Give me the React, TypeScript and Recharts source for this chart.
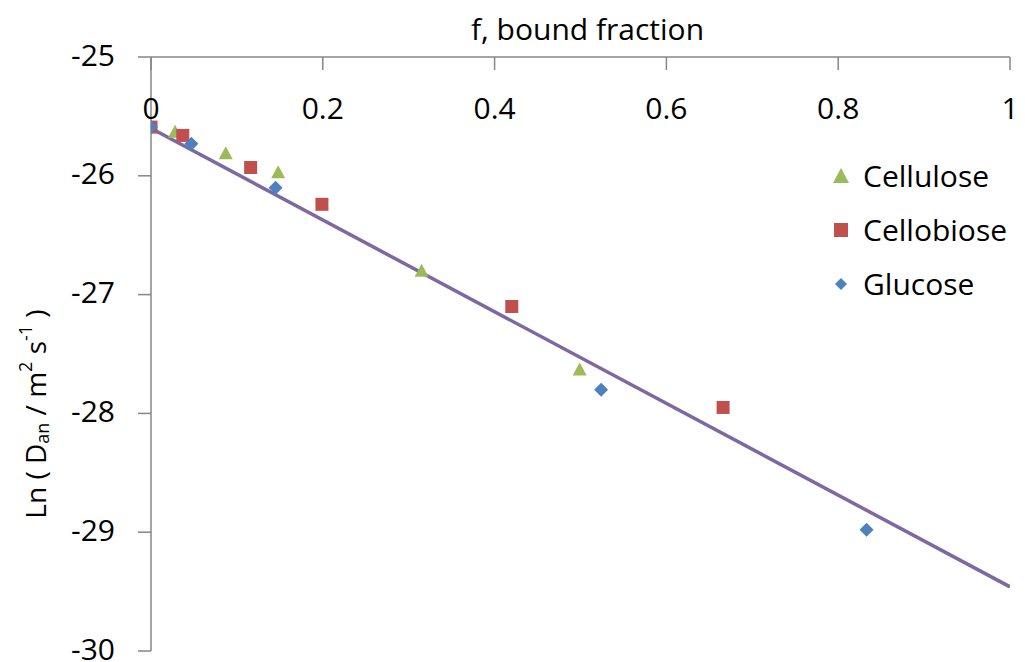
import React from 'react';
import { ScatterChart, Scatter, XAxis, YAxis } from 'recharts';

const xTicks = [0, 0.2, 0.4, 0.6, 0.8, 1];
const yTicks = [-30, -29, -28, -27, -26, -25];

const celluloseF = [0.028, 0.087, 0.148, 0.315, 0.499];
const celluloseLnD = [-25.63, -25.81, -25.97, -26.8, -27.63];

const cellobioseF = [0, 0.037, 0.116, 0.199, 0.42, 0.666];
const cellobioseLnD = [-25.59, -25.66, -25.93, -26.24, -27.1, -27.95];

const glucoseF = [0, 0.047, 0.145, 0.524, 0.833];
const glucoseLnD = [-25.59, -25.73, -26.1, -27.8, -28.98];

const fitF = [0, 1];
const fitLnD = [-25.6, -29.46];

const toPts = (xs: number[], ys: number[]) => xs.map((x, i) => ({ x, y: ys[i] }));

const GREEN = '#9BBB59';
const RED = '#C0504D';
const BLUE = '#4F81BD';
const PURPLE = '#7D68A2';
const AXIS = '#868686';
const FONT = '"Open Sans", Lato, sans-serif';
const FS = 30;
const TFS = 28;

const Triangle = (p: any) => (
  <polygon points={`${p.cx},${p.cy - 7} ${p.cx + 7},${p.cy + 6} ${p.cx - 7},${p.cy + 6}`} fill={GREEN} />
);
const Square = (p: any) => <rect x={p.cx - 6.5} y={p.cy - 6.5} width={13} height={13} fill={RED} />;
const Diamond = (p: any) => (
  <polygon points={`${p.cx},${p.cy - 7} ${p.cx + 7},${p.cy} ${p.cx},${p.cy + 7} ${p.cx - 7},${p.cy}`} fill={BLUE} />
);
const NoShape = () => <g />;

const legendItems = [
  { name: 'Cellulose', icon: 'tri', color: GREEN },
  { name: 'Cellobiose', icon: 'sq', color: RED },
  { name: 'Glucose', icon: 'dia', color: BLUE },
];

const XTick = (p: any) => (
  <g>
    <line x1={p.x} x2={p.x} y1={p.y} y2={p.y + 13} stroke={AXIS} strokeWidth={1.5} />
    <text x={p.x} y={p.y + 50} textAnchor="middle" dominantBaseline="central" fontFamily={FONT} fontSize={FS} fill="#000">
      {p.payload.value}
    </text>
  </g>
);

const YTick = (p: any) => (
  <text x={p.x} y={p.y - 3} textAnchor="end" dominantBaseline="central" fontFamily={FONT} fontSize={FS} fill="#000">
    {p.payload.value}
  </text>
);

const YTitle = (props: any) => {
  const vb = props.viewBox || {};
  const cx = vb.x + 27;
  const cy = vb.y + vb.height / 2 + 60;
  return (
    <text
      x={cx}
      y={cy}
      transform={`rotate(-90, ${cx}, ${cy})`}
      textAnchor="middle"
      dominantBaseline="central"
      fontFamily={FONT}
      fontSize={TFS}
      fill="#000"
    >
      Ln ( D
      <tspan dy={7} fontSize={18}>an</tspan>
      <tspan dy={-7}> / m</tspan>
      <tspan dy={-10} fontSize={18}>2</tspan>
      <tspan dy={10}> s</tspan>
      <tspan dy={-10} fontSize={18}>-1</tspan>
      <tspan dy={10}> )</tspan>
    </text>
  );
};

const XTitle = (props: any) => {
  const vb = props.viewBox || {};
  return (
    <text
      x={vb.x + vb.width / 2 + 7}
      y={vb.y + 20}
      textAnchor="middle"
      dominantBaseline="central"
      fontFamily={FONT}
      fontSize={FS}
      fill="#000"
    >
      f, bound fraction
    </text>
  );
};

export default function App() {
  return (
    <div style={{ position: 'relative', width: 1017, height: 654 }}>
      <ScatterChart width={1017} height={654} margin={{ top: 0, right: 15, bottom: 11, left: 0 }}>
        <XAxis
          type="number"
          dataKey="x"
          orientation="top"
          domain={[0, 1]}
          ticks={xTicks}
          interval={0}
          height={49}
          axisLine={{ stroke: AXIS, strokeWidth: 1.5 }}
          tickLine={false}
          tickSize={0}
          tickMargin={0}
          tick={<XTick />}
          allowDataOverflow
          label={<XTitle />}
        />
        <YAxis
          type="number"
          dataKey="y"
          domain={[-30, -25]}
          ticks={yTicks}
          interval={0}
          width={143}
          axisLine={{ stroke: AXIS, strokeWidth: 1.5 }}
          tickLine={{ stroke: AXIS, strokeWidth: 1.5 }}
          tickSize={13}
          tickMargin={23}
          tick={<YTick />}
          allowDataOverflow
          label={<YTitle />}
        />
        <Scatter
          name="fit"
          data={toPts(fitF, fitLnD)}
          line={{ stroke: PURPLE, strokeWidth: 3.5 }}
          shape={<NoShape />}
          legendType="none"
          isAnimationActive={false}
        />
        <Scatter name="Cellulose" data={toPts(celluloseF, celluloseLnD)} shape={<Triangle />} isAnimationActive={false} />
        <Scatter name="Cellobiose" data={toPts(cellobioseF, cellobioseLnD)} shape={<Square />} isAnimationActive={false} />
        <Scatter name="Glucose" data={toPts(glucoseF, glucoseLnD)} shape={<Diamond />} isAnimationActive={false} />
      </ScatterChart>
      <div style={{ position: 'absolute', left: 822, top: 141, fontFamily: FONT, fontSize: FS, color: '#000', lineHeight: 1 }}>
        {legendItems.map((it) => (
          <div key={it.name} style={{ display: 'flex', alignItems: 'center', height: 54 }}>
            <svg width={33} height={20}>
              {it.icon === 'tri' && <polygon points="11,2 19,17 3,17" fill={it.color} />}
              {it.icon === 'sq' && <rect x={4} y={3} width={14} height={14} fill={it.color} />}
              {it.icon === 'dia' && <polygon points="11,4 17,10 11,16 5,10" fill={it.color} />}
            </svg>
            <span>{it.name}</span>
          </div>
        ))}
      </div>
    </div>
  );
}
